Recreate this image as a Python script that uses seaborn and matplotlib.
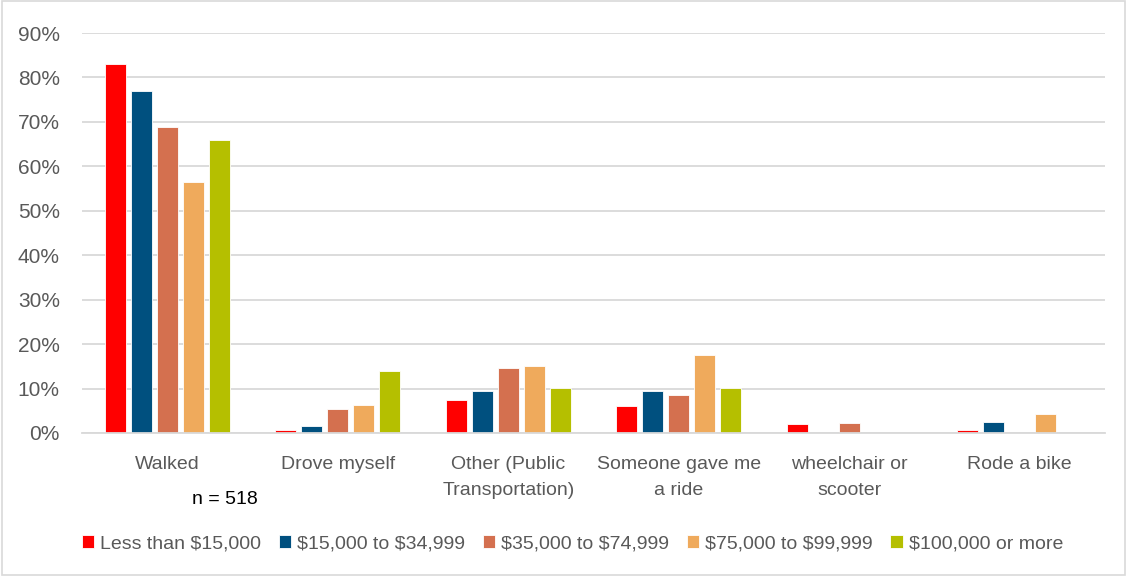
import matplotlib
matplotlib.use("Agg")
import matplotlib.pyplot as plt
import seaborn as sns
import pandas as pd
from matplotlib import font_manager
from matplotlib.patches import Rectangle
from matplotlib.ticker import FuncFormatter

categories = ["Walked", "Drove myself", "Other (Public\nTransportation)",
              "Someone gave me\na ride", "wheelchair or\nscooter", "Rode a bike"]
income_groups = ["Less than $15,000", "$15,000 to $34,999", "$35,000 to $74,999",
                 "$75,000 to $99,999", "$100,000 or more"]
less_15k = [83.0, 0.7, 7.5, 6.1, 2.1, 0.7]
from_15k_35k = [77.0, 1.6, 9.5, 9.5, 0.0, 2.5]
from_35k_75k = [68.9, 5.4, 14.7, 8.5, 2.3, 0.0]
from_75k_100k = [56.5, 6.4, 15.1, 17.5, 0.0, 4.3]
over_100k = [65.9, 13.9, 10.2, 10.2, 0.0, 0.0]
colors = ["#FF0000", "#00507F", "#D4704F", "#EFAA5C", "#B5BF00"]
yticks = [0, 10, 20, 30, 40, 50, 60, 70, 80, 90]

series = [less_15k, from_15k_35k, from_35k_75k, from_75k_100k, over_100k]
rows = []
for grp, vals in zip(income_groups, series):
    for cat, v in zip(categories, vals):
        rows.append({"category": cat, "income": grp, "value": v})
df = pd.DataFrame(rows)

sns.set_theme(style="white")
installed = {f.name for f in font_manager.fontManager.ttflist}
fam = [f for f in ["Liberation Sans Narrow", "Arial Narrow", "Liberation Sans"] if f in installed]
plt.rcParams["font.family"] = fam + ["DejaVu Sans"]

fs = 14

fig = plt.figure(figsize=(11.27, 5.76), dpi=100)
ax = fig.add_axes([0.0728, 0.2483, 0.9077, 0.6944])

sns.barplot(data=df, x="category", y="value", hue="income", order=categories,
            hue_order=income_groups, palette=colors, saturation=1, width=0.7625, gap=0.19,
            edgecolor="white", linewidth=0.6, ax=ax, legend=True)

ax.set_xlim(-0.5, len(categories) - 0.5)
ax.set_ylim(0, 90)
ax.set_yticks(yticks)
ax.yaxis.set_major_formatter(FuncFormatter(lambda v, p: f"{int(v)}%"))
ax.grid(axis="y", color="#D9D9D9", linewidth=1.3)
ax.set_axisbelow(True)
for s in ["top", "right", "left"]:
    ax.spines[s].set_visible(False)
ax.spines["bottom"].set_color("#D9D9D9")
ax.spines["bottom"].set_linewidth(1.3)
ax.set_xlabel("")
ax.set_ylabel("")
ax.tick_params(axis="y", length=0, pad=16, labelsize=fs + 1, labelcolor="#595959")
ax.tick_params(axis="x", length=0, pad=16.5, labelsize=fs, labelcolor="#595959")
for t in ax.get_xticklabels():
    t.set_linespacing(1.7)

handles, labels = ax.get_legend_handles_labels()
ax.get_legend().remove()
labels = [l.replace("$", r"\$") for l in labels]
fig.legend(handles, labels, loc="center", bbox_to_anchor=(0.508, 0.056), ncol=5,
           frameon=False, fontsize=fs, handlelength=0.65, handleheight=0.65,
           handletextpad=0.3, columnspacing=0.9, labelcolor="#595959")

fig.text(225 / 1127, 1 - 500 / 576, "n = 518", ha="center", va="center",
         fontsize=fs, color="black")

fig.patches.append(Rectangle((0.002, 0.002), 0.996, 0.996, transform=fig.transFigure,
                             fill=False, edgecolor="#D9D9D9", linewidth=1.2))

fig.savefig("out.png", dpi=100)
